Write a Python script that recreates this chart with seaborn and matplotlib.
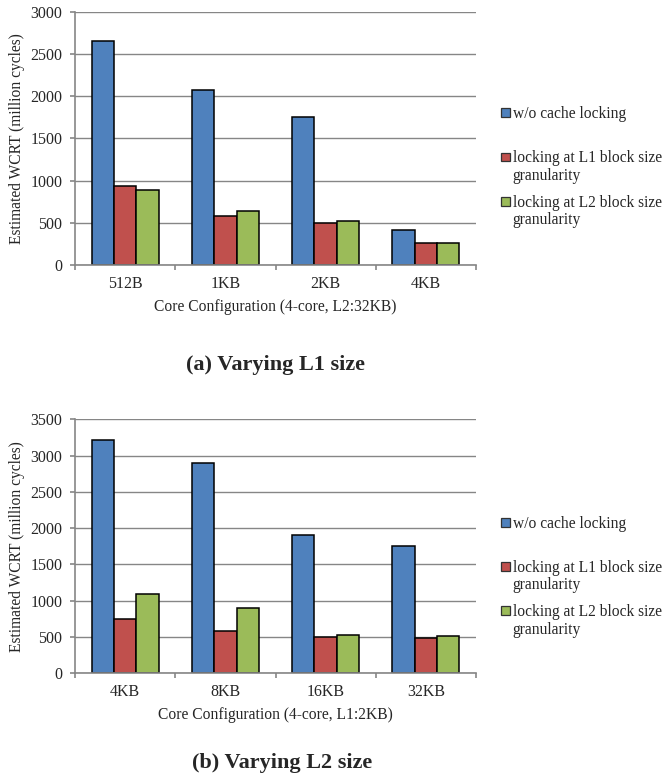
import pandas as pd
import matplotlib
matplotlib.use("Agg")
import matplotlib.pyplot as plt
from matplotlib.patches import Rectangle
import seaborn as sns

# panel (a): varying L1 size
l1_sizes = ["512B", "1KB", "2KB", "4KB"]
l1_no_lock = [2650, 2075, 1752, 417]
l1_lock_l1 = [933, 575, 492, 256]
l1_lock_l2 = [894, 638, 523, 256]

# panel (b): varying L2 size
l2_sizes = ["4KB", "8KB", "16KB", "32KB"]
l2_no_lock = [3211, 2898, 1902, 1750]
l2_lock_l1 = [744, 579, 504, 491]
l2_lock_l2 = [1093, 904, 528, 518]

series = ["w/o cache locking",
          "locking at L1 block size\ngranularity",
          "locking at L2 block size\ngranularity"]
colors = ["#4F81BD", "#C0504D", "#9BBB59"]

sns.set_style("white")
plt.rcParams["font.family"] = ["Liberation Serif", "DejaVu Serif"]

grey = "#868686"
W, H = 665, 780


def make_df(cats, a, b, c):
    rows = []
    for s, vals in zip(series, [a, b, c]):
        for cat, v in zip(cats, vals):
            rows.append({"config": cat, "series": s, "wcrt": v})
    return pd.DataFrame(rows)


def draw_panel(ax, df, cats, ymax, xlabel):
    sns.barplot(data=df, x="config", y="wcrt", hue="series", order=cats,
                hue_order=series, palette=colors, saturation=1, width=0.67,
                edgecolor="black", linewidth=1.1, legend=False, ax=ax)
    ax.set_ylim(0, ymax)
    ax.set_xlim(-0.5, 3.5)
    ax.set_yticks(range(0, ymax + 1, 500))
    ax.yaxis.grid(True, color=grey, lw=1)
    ax.set_axisbelow(True)
    for sp in ["top", "right"]:
        ax.spines[sp].set_visible(False)
    for sp in ["left", "bottom"]:
        ax.spines[sp].set_color(grey)
        ax.spines[sp].set_linewidth(1.2)
    ax.tick_params(axis="y", length=3.6, width=1.2, color=grey, labelsize=11.5,
                   pad=5.5, left=True)
    ax.tick_params(axis="x", which="major", length=0, labelsize=11.5, pad=8)
    ax.set_xticks([-0.5, 0.5, 1.5, 2.5, 3.5], minor=True)
    ax.tick_params(axis="x", which="minor", length=3.6, width=1.2, color=grey,
                   bottom=True)
    ax.set_xlabel(xlabel, fontsize=11.2, labelpad=5)
    ax.set_ylabel("Estimated WCRT (million cycles)", fontsize=11.2, labelpad=4)


def draw_legend(fig, first_y):
    # Excel-style legend: entries evenly spaced, swatch next to first line
    for i, (lab, col) in enumerate(zip(series, colors)):
        yc = first_y + i * 44.2
        fig.add_artist(Rectangle((501 / W, 1 - (yc + 4.4) / H), 8.7 / W, 8.7 / H,
                                 facecolor=col, edgecolor="#333333", lw=0.9,
                                 transform=fig.transFigure))
        fig.text(512.7 / W, 1 - (yc - 6.5) / H, lab, ha="left", va="top",
                 fontsize=11.2, linespacing=1.12)


fig = plt.figure(figsize=(6.65, 7.8), dpi=100)
ax1 = fig.add_axes([75 / W, 1 - 265 / H, 401 / W, 253.3 / H])
ax2 = fig.add_axes([75 / W, 1 - 673.3 / H, 401 / W, 254 / H])

draw_panel(ax1, make_df(l1_sizes, l1_no_lock, l1_lock_l1, l1_lock_l2),
           l1_sizes, 3000, "Core Configuration (4-core, L2:32KB)")
draw_panel(ax2, make_df(l2_sizes, l2_no_lock, l2_lock_l1, l2_lock_l2),
           l2_sizes, 3500, "Core Configuration (4-core, L1:2KB)")

draw_legend(fig, 112.8)
draw_legend(fig, 522.3)

fig.text(275 / W, 1 - 365 / H, "(a) Varying L1 size", ha="center", va="center",
         fontsize=16, fontweight="bold")
fig.text(282 / W, 1 - 763 / H, "(b) Varying L2 size", ha="center", va="center",
         fontsize=16, fontweight="bold")

fig.savefig("out.png", dpi=100)
